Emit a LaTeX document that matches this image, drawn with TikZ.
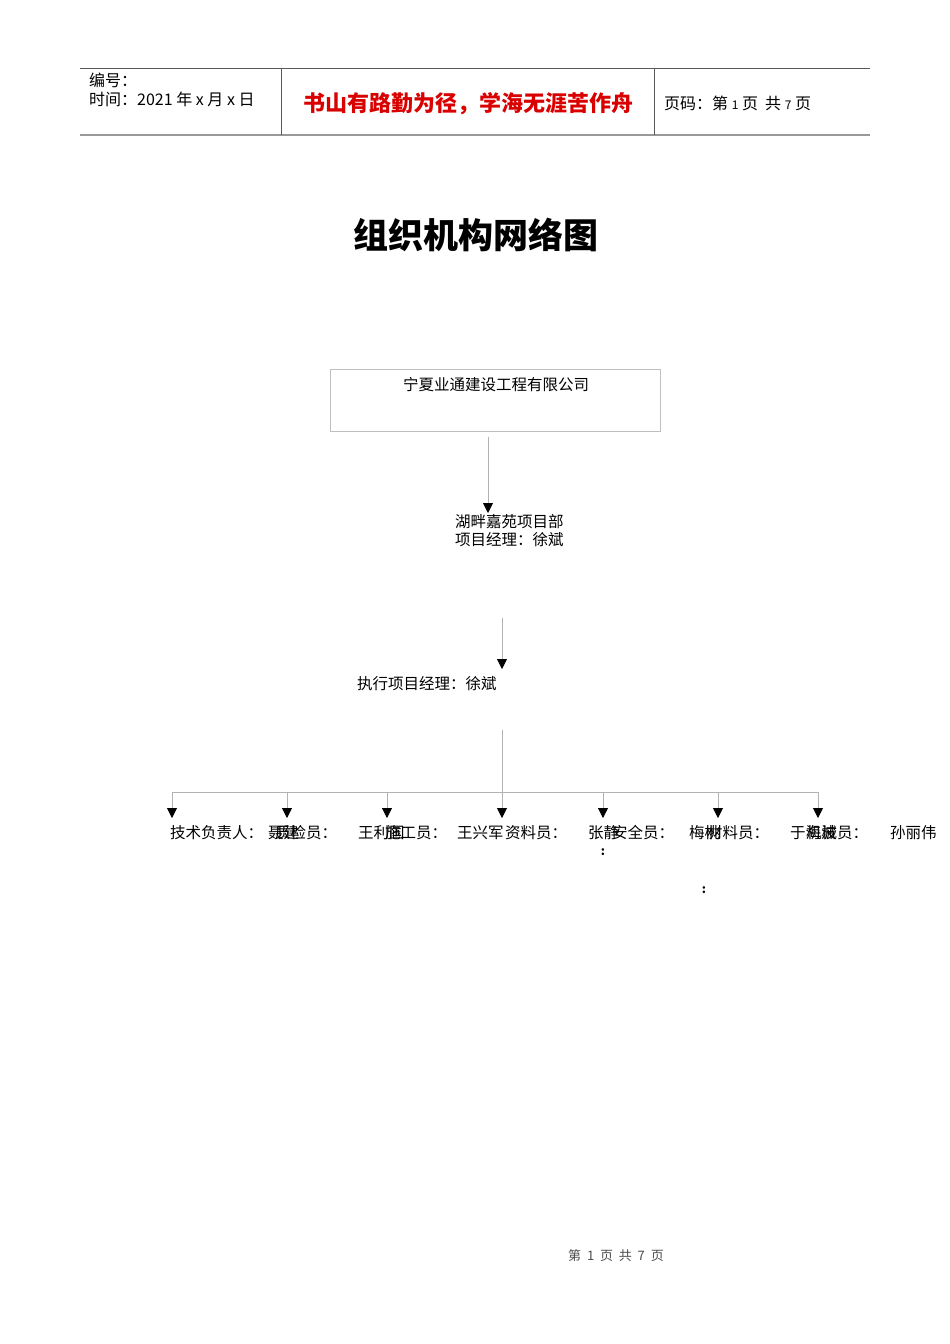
\documentclass[tikz,border=0pt]{standalone}
\usepackage{fontspec}
\setmainfont{Noto Sans CJK SC}
\usetikzlibrary{arrows.meta}
\begin{document}
\begin{tikzpicture}[x=1pt,y=-1pt,
  conn/.style={draw=gray!60, line width=0.8pt},
  arr/.style={conn,-{Triangle[width=10pt,length=10pt,color=black]}},
  lbl/.style={anchor=west,inner sep=0pt,font=\fontsize{15.5}{18}\selectfont},
  hdr/.style={anchor=west,inner sep=0pt,font=\fontsize{16}{17}\selectfont},
  rule/.style={draw=gray!70!black, line width=0.8pt}]
\useasboundingbox[fill=white] (0,0) rectangle (950,1344);
% header
\coordinate (h1) at (80,68); \coordinate (h2) at (870,68);
\coordinate (h3) at (80,135); \coordinate (h4) at (870,135);
\coordinate (v1a) at (281,68); \coordinate (v1b) at (281,135);
\coordinate (v2a) at (654,68); \coordinate (v2b) at (654,135);
\draw[rule] (h1) -- (h2);
\draw[draw=gray!80, line width=2pt] (h3) -- (h4);
\draw[rule] (v1a) -- (v1b);
\draw[rule] (v2a) -- (v2b);
\node[hdr] (bh) at (89,80) {编号：};
\node[hdr] (sj) at (89,99) {时间：2021 年 x 月 x 日};
\node[anchor=center,inner sep=0pt,text=red!85!black,font=\fontsize{22}{24}\selectfont\bfseries] (motto) at (468,104) {书山有路勤为径，学海无涯苦作舟};
\node[hdr] (pg) at (664,103) {页码：第 {\fontsize{12}{12}\selectfont 1} 页\ \ 共 {\fontsize{12}{12}\selectfont 7} 页};
% title
\node[inner sep=0pt,font=\fontsize{35}{40}\selectfont\bfseries] (title) at (476,235) {组织机构网络图};
% company box
\node[draw=gray!50, line width=0.8pt, minimum width=330pt, minimum height=62pt, inner sep=0pt] (co) at (495,400) {};
\node[lbl,anchor=center] (cot) at (496,385) {宁夏业通建设工程有限公司};
% project dept
\coordinate (a1s) at (488,437);
\coordinate (a1e) at (488,513);
\draw[arr] (a1s) -- (a1e);
\node[lbl,align=left] (pd) at (455,531) {湖畔嘉苑项目部\\项目经理：徐斌};
% exec manager
\coordinate (a2s) at (502,618);
\coordinate (a2e) at (502,669);
\draw[arr] (a2s) -- (a2e);
\node[lbl] (ex) at (357,684) {执行项目经理：徐斌};
% distribution
\coordinate (a3s) at (502,730);
\coordinate (a3e) at (502,818);
\coordinate (hl) at (172,792);
\coordinate (hr) at (818,792);
\draw[conn] (hl) -- (hr);
\draw[arr] (a3s) -- (a3e);
\foreach \x/\n in {172/t1,287/t2,387/t3,603/t5,718/t6,818/t7}{
  \coordinate (\n s) at (\x,792);
  \coordinate (\n e) at (\x,818);
  \draw[arr] (\n s) -- (\n e);
}
\node[lbl] (l1) at (170,833) {技术负责人：};
\node[lbl] (l2a) at (268,833) {聂建};
\node[lbl] (l2b) at (275,833) {质检员：};
\node[lbl] (l3a) at (358,833) {王利国};
\node[lbl] (l3b) at (385,833) {施工员：};
\node[lbl] (l4a) at (457,833) {王兴军};
\node[lbl] (l4b) at (505,833) {资料员：};
\node[lbl] (l5a) at (588,833) {张静};
\node[lbl] (l5b) at (612,833) {安全员：};
\node[inner sep=0pt,font=\fontsize{12}{12}\selectfont\bfseries] (c5) at (603,852) {:};
\node[lbl] (l6a) at (689,833) {梅桃};
\node[lbl] (l6b) at (707,833) {材料员：};
\node[inner sep=0pt,font=\fontsize{12}{12}\selectfont\bfseries] (c6) at (704,890) {:};
\node[lbl] (l7a) at (790,833) {于海波};
\node[lbl] (l7b) at (806,833) {机械员：};
\node[lbl] (l8) at (890,833) {孙丽伟};
% footer
\node[inner sep=0pt,text=gray!60!black,font=\fontsize{13}{14}\selectfont] (ft) at (616,1256) {第\ \ 1\ \ 页\ \ 共\ \ 7\ \ 页};
\end{tikzpicture}
\end{document}
